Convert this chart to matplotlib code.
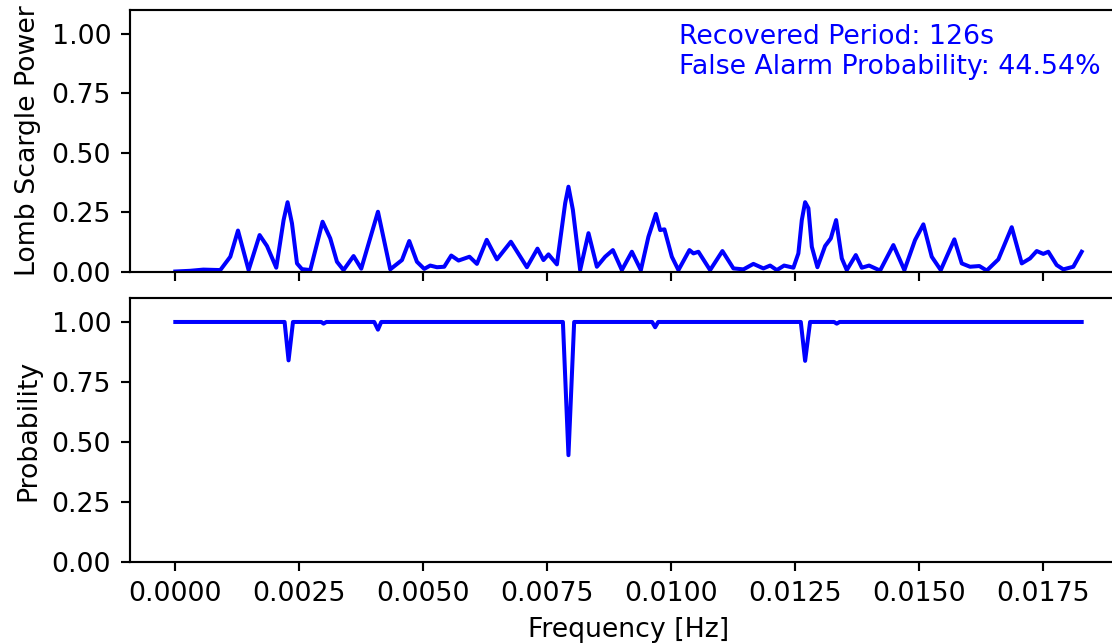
import numpy as np
import matplotlib.pyplot as plt

# Lomb Scargle power spectrum
freq = [0.0, 0.0003, 0.000565, 0.000907, 0.001109, 0.001264, 0.001478, 0.0017, 0.001849,
        0.002036, 0.002184, 0.002264, 0.002353, 0.002454, 0.002554, 0.002722, 0.00297,
        0.003125, 0.00326, 0.003393, 0.003595, 0.00375, 0.004087, 0.004335, 0.004571,
        0.004718, 0.004873, 0.00502, 0.005141, 0.005276, 0.005423, 0.005565, 0.005712,
        0.005933, 0.006083, 0.00628, 0.006486, 0.006768, 0.007091, 0.007304, 0.007425,
        0.007526, 0.007696, 0.007863, 0.007929, 0.008018, 0.008165, 0.008333, 0.008502,
        0.008669, 0.008825, 0.009006, 0.009208, 0.009389, 0.009542, 0.009692, 0.009778,
        0.009865, 0.010014, 0.010147, 0.010369, 0.01045, 0.01055, 0.010786, 0.011034,
        0.011256, 0.011458, 0.011659, 0.011861, 0.011996, 0.012131, 0.012278, 0.012466,
        0.012566, 0.012635, 0.012702, 0.012768, 0.012837, 0.01295, 0.013105, 0.01322,
        0.013327, 0.013442, 0.013542, 0.013724, 0.013845, 0.013992, 0.014214, 0.014482,
        0.014704, 0.014919, 0.015087, 0.015256, 0.015438, 0.015712, 0.015861, 0.016028,
        0.016216, 0.016365, 0.016599, 0.016869, 0.017071, 0.017238, 0.017373, 0.017506,
        0.017607, 0.017776, 0.017909, 0.018111, 0.01828]
power = [0.002, 0.005, 0.010, 0.008, 0.064, 0.174, 0.008, 0.155, 0.109,
         0.018, 0.218, 0.293, 0.204, 0.036, 0.012, 0.008, 0.211,
         0.141, 0.043, 0.008, 0.067, 0.014, 0.253, 0.011, 0.050,
         0.130, 0.043, 0.013, 0.027, 0.020, 0.022, 0.069, 0.048,
         0.064, 0.034, 0.135, 0.053, 0.127, 0.020, 0.098, 0.050,
         0.074, 0.032, 0.289, 0.358, 0.261, 0.008, 0.163, 0.022,
         0.064, 0.092, 0.008, 0.085, 0.008, 0.148, 0.244, 0.176,
         0.179, 0.064, 0.008, 0.092, 0.078, 0.085, 0.008, 0.088,
         0.015, 0.011, 0.034, 0.015, 0.027, 0.008, 0.027, 0.018,
         0.078, 0.218, 0.293, 0.268, 0.106, 0.020, 0.109, 0.141,
         0.218, 0.057, 0.008, 0.071, 0.018, 0.027, 0.006, 0.113,
         0.008, 0.134, 0.200, 0.064, 0.008, 0.137, 0.036, 0.022,
         0.025, 0.006, 0.053, 0.188, 0.036, 0.057, 0.088, 0.076,
         0.085, 0.029, 0.011, 0.022, 0.085]

# false alarm probability
prob_freq = [0.0, 0.002204, 0.002284, 0.002373, 0.002944, 0.00299, 0.003044,
             0.004012, 0.004087, 0.004153, 0.007817, 0.007929, 0.008044,
             0.009617, 0.009677, 0.009738, 0.012615, 0.012702, 0.012802,
             0.013286, 0.01334, 0.013397, 0.01828]
prob = [1.0, 1.0, 0.84, 1.0, 1.0, 0.993, 1.0,
        1.0, 0.968, 1.0, 1.0, 0.445, 1.0,
        1.0, 0.978, 1.0, 1.0, 0.838, 1.0,
        1.0, 0.993, 1.0, 1.0]

period = 126
fap = 44.54

dpi = 193
fig = plt.figure(figsize=(1112 / dpi, 643 / dpi), dpi=dpi)
ax1 = fig.add_axes([0.1169, 0.577, 0.8966, 0.4075])
ax2 = fig.add_axes([0.1169, 0.126, 0.8966, 0.4106], sharex=ax1)

ax1.plot(freq, power, color='b')
ax1.set_ylim(0, 1.1)
ax1.set_yticks([0, 0.25, 0.5, 0.75, 1.0])
ax1.set_ylabel("Lomb Scargle Power")
ax1.tick_params(labelbottom=False)
ax1.text(0.551, 0.947, f"Recovered Period: {period}s\nFalse Alarm Probability: {fap}%",
         transform=ax1.transAxes, color='b', va='top', ha='left')

ax2.plot(prob_freq, prob, color='b')
ax2.set_ylim(0, 1.1)
ax2.set_yticks([0, 0.25, 0.5, 0.75, 1.0])
ax2.set_ylabel("Probability")
ax2.set_xlabel("Frequency [Hz]")
ax2.set_xticks(np.arange(0, 0.0176, 0.0025))
ax2.set_xlim(-0.000914, 0.019194)

# the right edge of the axes runs past the cropped figure
for ax in (ax1, ax2):
    ax.spines['right'].set_visible(False)

plt.savefig("out.png", dpi=dpi)
